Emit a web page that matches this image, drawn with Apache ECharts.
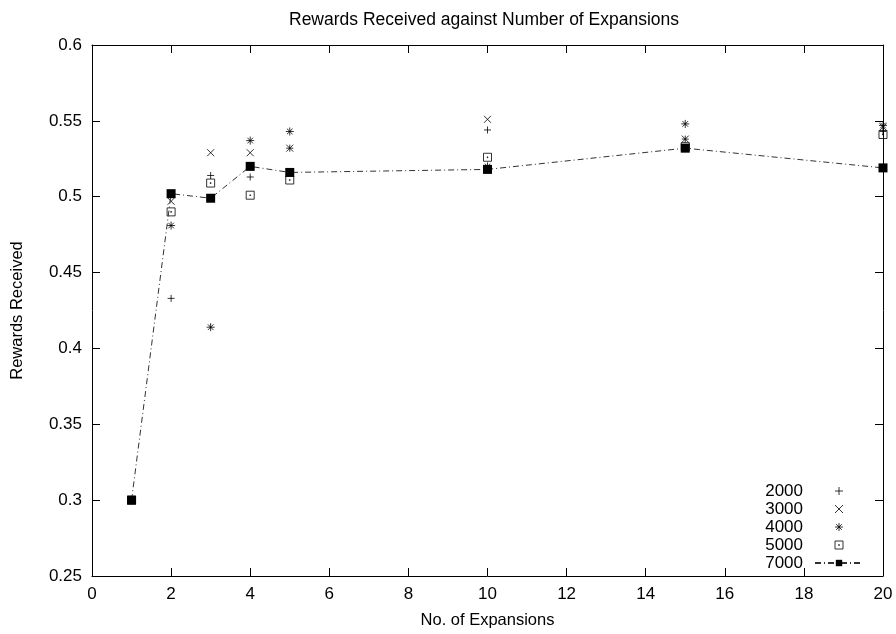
<!DOCTYPE html>
<html>
<head>
<meta charset="utf-8">
<script src="https://cdn.jsdelivr.net/npm/echarts@6/dist/echarts.min.js"></script>
<style>html,body{margin:0;padding:0;background:#fff}#c{width:896px;height:634px}</style>
</head>
<body>
<div id="c"></div>
<script>
const expansions = [1, 2, 3, 4, 5, 10, 15, 20];
const s2000 = [0.300, 0.433, 0.514, 0.513, 0.532, 0.544, 0.538, 0.543];
const s3000 = [0.300, 0.497, 0.529, 0.529, 0.532, 0.551, 0.538, 0.546];
const s4000 = [0.300, 0.481, 0.414, 0.537, 0.543, 0.520, 0.548, 0.547];
const s5000 = [0.300, 0.490, 0.509, 0.501, 0.511, 0.526, 0.533, 0.541];
const s7000 = [0.300, 0.502, 0.499, 0.520, 0.516, 0.518, 0.532, 0.519];
const seriesNames = ['2000', '3000', '4000', '5000', '7000'];
const xTicks = {min: 0, max: 20, interval: 2};
const yTicks = {min: 0.25, max: 0.6, interval: 0.05};

const FONT = 'Liberation Sans, Arial, Helvetica, sans-serif';
const pair = arr => expansions.map((x, i) => [x, arr[i]]);

const PLUS = 'path://M0,5L10,5M5,0L5,10';
const CROSS = 'path://M0,0L10,10M10,0L0,10';
const STAR = 'path://M0,5L10,5M5,0L5,10M1.5,1.5L8.5,8.5M8.5,1.5L1.5,8.5';
const DOTSQ = 'path://M0,0L10,0L10,10L0,10Z M4.5,4.5L5.5,4.5L5.5,5.5L4.5,5.5Z';

function pts(name, data, symbol, size) {
  return {
    name, type: 'scatter', data: pair(data), symbol, symbolSize: size,
    itemStyle: {color: 'transparent', borderColor: '#000', borderWidth: 1},
    emphasis: {disabled: true}, z: 3
  };
}

const axisCommon = {
  type: 'value',
  axisLine: {show: true, onZero: false, lineStyle: {color: '#000', width: 1}},
  axisTick: {show: true, inside: true, length: 8, lineStyle: {color: '#000', width: 1}},
  splitLine: {show: false}
};

const chart = echarts.init(document.getElementById('c'), null, {renderer: 'canvas'});
chart.setOption({
  animation: false,
  backgroundColor: '#fff',
  textStyle: {fontFamily: FONT},
  title: {
    text: 'Rewards Received against Number of Expansions',
    left: 284, top: 6,
    textStyle: {fontFamily: FONT, fontSize: 17.5, fontWeight: 'normal', color: '#000'}
  },
  grid: {left: 92, right: 13, top: 45, bottom: 57, show: false},
  legend: {
    orient: 'vertical', align: 'right', right: 27, top: 477,
    itemWidth: 48, itemHeight: 8, itemGap: 0,
    itemStyle: {borderWidth: 1},
    textStyle: {fontFamily: FONT, fontSize: 17, color: '#000', lineHeight: 18, padding: [0, 7, 0, 0]},
    data: seriesNames, selectedMode: false
  },
  xAxis: [
    Object.assign({}, axisCommon, xTicks, {
      position: 'bottom',
      axisLabel: {fontFamily: FONT, fontSize: 17, color: '#000', margin: 10},
      name: 'No. of Expansions', nameLocation: 'middle', nameGap: 36,
      nameTextStyle: {fontFamily: FONT, fontSize: 16.5, color: '#000'}
    }),
    Object.assign({}, axisCommon, xTicks, {position: 'top', axisLabel: {show: false}})
  ],
  yAxis: [
    Object.assign({}, axisCommon, yTicks, {
      position: 'left',
      axisLabel: {fontFamily: FONT, fontSize: 17, color: '#000', margin: 10},
      name: 'Rewards Received', nameLocation: 'middle', nameGap: 66, nameRotate: 90,
      nameTextStyle: {fontFamily: FONT, fontSize: 16.5, color: '#000'}
    }),
    Object.assign({}, axisCommon, yTicks, {position: 'right', axisLabel: {show: false}})
  ],
  series: [
    pts('2000', s2000, PLUS, 7),
    pts('3000', s3000, CROSS, 7),
    pts('4000', s4000, STAR, 8),
    pts('5000', s5000, DOTSQ, 8),
    {
      name: '7000', type: 'line', data: pair(s7000),
      symbol: 'rect', symbolSize: 9, showSymbol: true,
      itemStyle: {color: '#000'},
      lineStyle: {color: '#333', width: 1, type: [6, 3, 1, 3]},
      emphasis: {disabled: true}, z: 4
    }
  ]
});
</script>
</body>
</html>
